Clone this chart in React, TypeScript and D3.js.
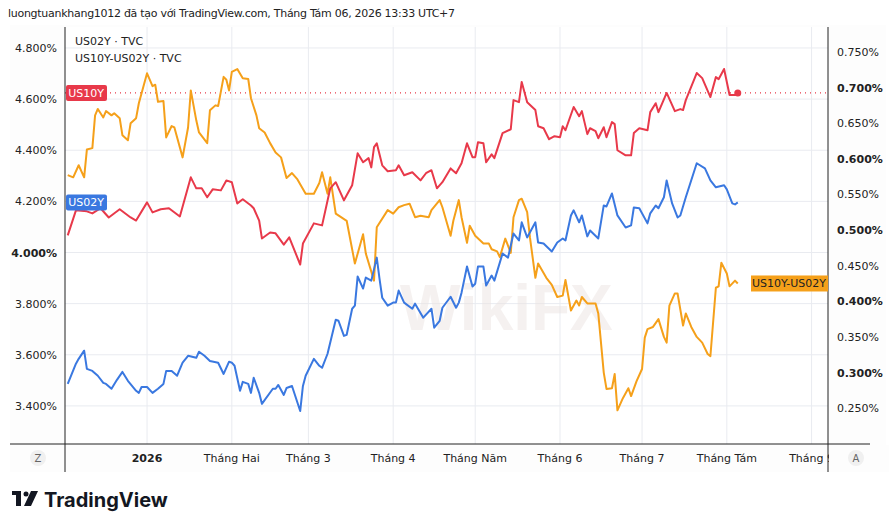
import React from 'react';
import * as d3 from 'd3';

// days since 2025-12-02 and values
const us10yDays = [1,4,8,10,13,16,20,24,26,30,32,35,38,42,46,48,50,52,54,57,59,61,63,65,68,69,71,72,75,77,80,82,86,87,91,94,97,99,102,105,107,109,111,112,113,114,116,118,121,122,124,127,130,132,134,136,138,141,143,145,147,149,150,151,153,154,156,157,160,163,164,166,167,169,172,173,175,177,179,181,182,183,186,188,189,191,192,194,195,197,198,200,201,202,205,207,208,210,213,214,216,217,220,223,225,226,227,231,233,236,238,239,241,243,245,246];
const us10yVals = [4.067,4.165,4.161,4.153,4.173,4.137,4.169,4.137,4.125,4.196,4.157,4.169,4.173,4.141,4.294,4.251,4.251,4.216,4.247,4.243,4.282,4.275,4.192,4.208,4.184,4.173,4.125,4.055,4.078,4.075,4.031,4.059,3.953,4.035,4.114,4.106,4.251,4.275,4.204,4.263,4.388,4.353,4.369,4.333,4.412,4.427,4.341,4.318,4.322,4.341,4.302,4.314,4.282,4.310,4.322,4.251,4.275,4.329,4.310,4.349,4.427,4.373,4.373,4.431,4.427,4.353,4.384,4.369,4.467,4.482,4.596,4.588,4.667,4.588,4.557,4.494,4.486,4.443,4.455,4.451,4.494,4.478,4.569,4.533,4.553,4.463,4.486,4.475,4.447,4.490,4.451,4.510,4.502,4.400,4.380,4.380,4.467,4.486,4.478,4.549,4.584,4.549,4.624,4.553,4.561,4.557,4.596,4.702,4.682,4.608,4.686,4.678,4.718,4.616,4.616,4.624];

const us02yDays = [1,4,5,7,8,10,12,14,15,17,19,21,23,26,27,28,30,32,34,36,37,39,41,43,45,48,49,51,53,56,58,60,61,62,64,65,67,68,69,71,72,76,77,78,80,81,83,86,87,88,91,93,94,96,99,100,102,103,105,106,107,109,110,112,114,115,116,118,120,121,122,124,127,128,131,134,135,137,138,141,143,144,145,147,149,150,151,153,154,156,157,160,162,164,166,167,169,172,173,175,178,180,182,183,185,186,188,189,191,192,195,197,198,200,202,205,207,208,210,213,214,216,217,219,220,222,224,225,227,231,234,236,238,241,242,244,245,246];
const us02yVals = [3.486,3.565,3.584,3.616,3.545,3.537,3.518,3.490,3.486,3.467,3.502,3.533,3.498,3.459,3.451,3.474,3.474,3.451,3.467,3.486,3.537,3.537,3.518,3.569,3.596,3.588,3.612,3.596,3.576,3.569,3.525,3.573,3.569,3.557,3.459,3.494,3.486,3.451,3.510,3.451,3.408,3.467,3.467,3.482,3.443,3.470,3.478,3.380,3.478,3.518,3.584,3.557,3.549,3.604,3.737,3.733,3.674,3.678,3.780,3.792,3.906,3.859,3.902,3.890,3.980,3.898,3.823,3.792,3.804,3.804,3.851,3.804,3.780,3.800,3.745,3.780,3.706,3.733,3.784,3.827,3.784,3.804,3.843,3.945,3.867,3.878,3.945,3.945,3.871,3.910,3.890,3.996,3.980,4.074,4.047,4.118,4.059,4.118,4.039,4.035,4.004,4.039,4.055,4.047,4.145,4.165,4.118,4.145,4.063,4.086,4.055,4.184,4.180,4.231,4.145,4.098,4.106,4.176,4.173,4.114,4.153,4.184,4.173,4.216,4.282,4.192,4.137,4.145,4.216,4.349,4.329,4.282,4.255,4.263,4.247,4.192,4.188,4.196];

const spreadDays = [1,3,5,7,8,10,11,12,14,15,17,18,20,21,23,24,26,27,30,32,33,34,36,37,39,40,43,45,46,48,49,52,53,55,56,58,59,60,61,63,65,67,68,70,71,73,75,77,79,81,83,85,88,91,93,94,96,97,99,103,106,109,110,113,114,118,120,122,124,126,128,130,133,134,137,138,141,142,144,145,147,148,150,153,155,156,158,159,161,163,164,166,167,169,170,172,173,176,178,180,182,183,185,187,188,189,191,194,195,197,198,200,201,202,204,206,207,209,211,212,213,215,217,219,220,221,223,224,226,227,229,231,233,235,236,238,239,240,242,243,245,246];
const spreadVals = [0.577,0.574,0.591,0.574,0.613,0.615,0.661,0.670,0.658,0.667,0.661,0.664,0.657,0.633,0.626,0.650,0.657,0.678,0.720,0.702,0.704,0.680,0.681,0.630,0.646,0.644,0.602,0.644,0.696,0.654,0.637,0.622,0.668,0.675,0.674,0.715,0.711,0.696,0.722,0.726,0.713,0.712,0.685,0.661,0.643,0.637,0.622,0.609,0.602,0.573,0.580,0.571,0.551,0.551,0.566,0.581,0.551,0.574,0.523,0.513,0.453,0.494,0.467,0.429,0.504,0.528,0.523,0.532,0.535,0.537,0.518,0.520,0.518,0.528,0.542,0.532,0.492,0.513,0.542,0.518,0.482,0.506,0.492,0.481,0.481,0.473,0.470,0.462,0.488,0.468,0.518,0.542,0.544,0.525,0.490,0.433,0.453,0.433,0.423,0.406,0.408,0.430,0.387,0.401,0.394,0.406,0.397,0.397,0.383,0.300,0.277,0.278,0.298,0.247,0.264,0.278,0.267,0.288,0.305,0.349,0.361,0.364,0.375,0.350,0.342,0.394,0.411,0.411,0.366,0.383,0.364,0.350,0.342,0.326,0.323,0.419,0.421,0.454,0.439,0.421,0.429,0.425];

const leftTicks = [3.4, 3.6, 3.8, 4.0, 4.2, 4.4, 4.6, 4.8];
const rightTicks = [0.25, 0.3, 0.35, 0.4, 0.45, 0.5, 0.55, 0.6, 0.65, 0.7, 0.75];
const monthTicks = [
  { d: '2026-01-01', label: '2026', bold: true },
  { d: '2026-02-01', label: 'Tháng Hai' },
  { d: '2026-03-01', label: 'Tháng 3' },
  { d: '2026-04-01', label: 'Tháng 4' },
  { d: '2026-05-01', label: 'Tháng Năm' },
  { d: '2026-06-01', label: 'Tháng 6' },
  { d: '2026-07-01', label: 'Tháng 7' },
  { d: '2026-08-01', label: 'Tháng Tám' },
  { d: '2026-09-01', label: 'Tháng 9' },
];

const RED = '#e8394a';
const BLUE = '#3a78e0';
const ORANGE = '#f5a01a';
const FONT = '"DejaVu Sans", Verdana, sans-serif';

const start = new Date(2025, 11, 2);
const toDate = (d: number) => d3.timeDay.offset(start, d);

export default function App() {
  const L = 65, R = 828, T = 27, B = 444;
  const x = d3.scaleTime().domain([new Date(2025, 11, 2), new Date(2026, 8, 7)]).range([L, R]);
  const yL = d3.scaleLinear().domain([3.251, 4.882]).range([B, T]);
  const yR = d3.scaleLinear().domain([0.1997, 0.785]).range([B, T]);

  const mk = (days: number[], vals: number[], y: d3.ScaleLinear<number, number>) =>
    d3.line<number>().x((_, i) => x(toDate(days[i]))).y(v => y(v))(vals) || '';

  const last10 = us10yVals[us10yVals.length - 1];
  const last02 = us02yVals[us02yVals.length - 1];
  const lastSp = spreadVals[spreadVals.length - 1];
  const tickDate = (s: string) => { const [a, b, c] = s.split('-').map(Number); return new Date(a, b - 1, c); };

  return (
    <svg width={894} height={532} style={{ position: 'absolute', left: 0, top: 0, fontFamily: FONT }}>
      <rect width={894} height={532} fill="#fff" />
      <rect x={10} y={25} width={876} height={447} fill="#fdfdfd" />
      <text x={8} y={17} fontSize={11} fill="#222" textLength={447}>luongtuankhang1012 đã tạo với TradingView.com, Tháng Tám 06, 2026 13:33 UTC+7</text>
      <defs><clipPath id="pc"><rect x={L} y={T} width={R - L} height={B - T} /></clipPath></defs>
      <rect x={L} y={T} width={R - L} height={B - T} fill="#fff" />
      {leftTicks.map(t => <line key={t} x1={L} x2={R} y1={yL(t)} y2={yL(t)} stroke="#e9ebf0" />)}
      {monthTicks.map(m => <line key={m.d} x1={x(tickDate(m.d))} x2={x(tickDate(m.d))} y1={T} y2={B} stroke="#e9ebf0" />)}
      <text x={400} y={330} fontSize={64} fontWeight="bold" fill="#ece4e2" opacity={0.5} fontFamily="Arial">WikiFX</text>
      <g clipPath="url(#pc)" fill="none" strokeWidth={2} strokeLinejoin="round">
        <line x1={L} x2={R} y1={yL(last10)} y2={yL(last10)} stroke={RED} strokeWidth={1.2} strokeDasharray="1 4" />
        <path d={mk(spreadDays, spreadVals, yR)} stroke={ORANGE} />
        <path d={mk(us10yDays, us10yVals, yL)} stroke={RED} />
        <path d={mk(us02yDays, us02yVals, yL)} stroke={BLUE} />
        <circle cx={x(toDate(us10yDays[us10yDays.length - 1]))} cy={yL(last10)} r={3.5} fill={RED} stroke="none" />
      </g>
      <line x1={L} x2={L} y1={T} y2={472} stroke="#222" />
      <line x1={R} x2={R} y1={T} y2={472} stroke="#222" />
      <line x1={10} x2={870} y1={B} y2={B} stroke="#222" />
      {leftTicks.map(t => (
        <text key={t} x={57} y={yL(t) + 4} fontSize={11} textAnchor="end" fill="#222" fontWeight={t === 4 ? 'bold' : 'normal'}>{d3.format('.3f')(t)}%</text>
      ))}
      {rightTicks.map((t, i) => (
        <text key={t} x={837} y={yR(t) + 4} fontSize={11} fill="#222" fontWeight={i % 2 === 1 ? 'bold' : 'normal'}>{d3.format('.3f')(t)}%</text>
      ))}
      {monthTicks.map(m => (
        <text key={m.d} x={x(tickDate(m.d))} y={462} fontSize={11} textAnchor="middle" fill="#222" fontWeight={m.bold ? 'bold' : 'normal'}>{m.label}</text>
      ))}
      <rect x={R + 1} y={445} width={60} height={27} fill="#fdfdfd" />
      <circle cx={38} cy={458} r={8} fill="#f0f0f0" />
      <text x={38} y={462} fontSize={10} textAnchor="middle" fill="#666">Z</text>
      <circle cx={856} cy={458} r={8} fill="#f0f0f0" />
      <text x={856} y={462} fontSize={10} textAnchor="middle" fill="#666">A</text>
      <text x={75} y={45} fontSize={11} fill="#222">US02Y · TVC</text>
      <text x={75} y={62} fontSize={11} fill="#222">US10Y-US02Y · TVC</text>
      <rect x={66} y={yL(last10) - 8} width={41} height={16} rx={2} fill={RED} />
      <text x={86} y={yL(last10) + 4} fontSize={11} textAnchor="middle" fill="#fff">US10Y</text>
      <rect x={66} y={yL(last02) - 8} width={41} height={16} rx={2} fill={BLUE} />
      <text x={86} y={yL(last02) + 4} fontSize={11} textAnchor="middle" fill="#fff">US02Y</text>
      <rect x={751} y={yR(lastSp) - 8} width={77} height={16} fill={ORANGE} />
      <text x={789} y={yR(lastSp) + 4} fontSize={11} textAnchor="middle" fill="#222">US10Y-US02Y</text>
      <g transform="translate(12,491)">
        <rect x={0} y={0} width={9} height={4} fill="#131722" />
        <rect x={4} y={0} width={5} height={15} fill="#131722" />
        <circle cx={14} cy={3} r={2.5} fill="#131722" />
        <path d="M19 0 L26 0 L19 15 L12 15 Z" fill="#131722" />
        <text x={32} y={16} fontSize={20} fontWeight="bold" fill="#131722" fontFamily="Inter, sans-serif">TradingView</text>
      </g>
    </svg>
  );
}
